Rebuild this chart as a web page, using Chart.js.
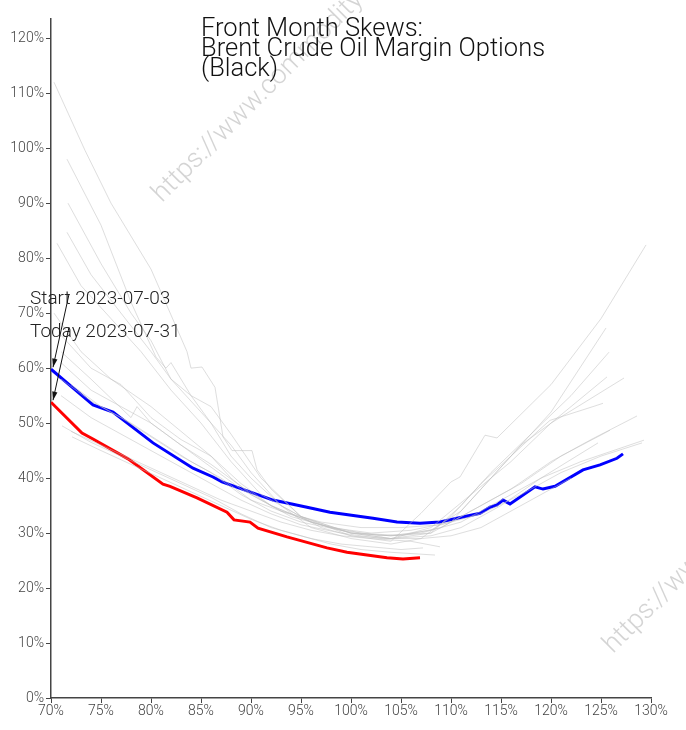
<!DOCTYPE html>
<html>
<head>
<meta charset="utf-8">
<script src="https://cdn.jsdelivr.net/npm/chart.js@4.4.0/dist/chart.umd.min.js"></script>
<style>
  html, body { margin: 0; padding: 0; background: #fff; }
  #wrap { width: 686px; height: 730px; position: relative; }
</style>
</head>
<body>
<div id="wrap"><canvas id="skew-chart" width="686" height="730"></canvas></div>
<script>
// moneyness (% of ATM) and implied vol (%)
var startLabel = 'Start 2023-07-03';
var todayLabel = 'Today 2023-07-31';
var titleLines = ['Front Month Skews:', 'Brent Crude Oil Margin Options', '(Black)'];

var blueMoneyness = [70, 74.2, 76.2, 80.2, 84.2, 86.2, 87.1, 92.2, 95.6, 97.9, 102.2, 104.6, 106.9, 108.9, 110.6, 112.9, 113.9, 114.6, 115.2, 115.9, 118.4, 119.2, 120.4, 123.2, 124.9, 126.6, 127.2];
var blueVols = [59.8, 53.3, 52.0, 46.4, 41.8, 40.2, 39.3, 36.0, 34.7, 33.8, 32.7, 32.0, 31.8, 32.0, 32.7, 33.6, 34.7, 35.1, 36.0, 35.3, 38.4, 38.0, 38.5, 41.5, 42.4, 43.6, 44.4];

var redMoneyness = [70, 73.1, 74.2, 77.7, 81.2, 81.9, 84.6, 87.6, 88.3, 89.9, 90.7, 93.6, 97.6, 99.6, 103.6, 105.2, 106.9];
var redVols = [53.8, 48.2, 47.1, 43.5, 38.9, 38.5, 36.4, 33.8, 32.4, 32.0, 30.9, 29.3, 27.3, 26.5, 25.5, 25.3, 25.5];

// other days of the month, light grey
var greyMoneyness = [
    [70.3, 73.4, 76, 80, 83.6, 84, 85.1, 86.4, 87.2, 88.1, 90.1, 90.6, 92, 95, 100, 104, 107, 110, 110.9, 113.4, 114.6, 120, 125, 129.5],
    [71.6, 75, 78, 80.5, 81.5, 82, 84, 86, 88, 90, 93, 96, 100, 104, 107, 110, 113, 116, 120, 125.5],
    [71.7, 75, 78, 80, 82, 85, 88, 90, 93, 97, 100, 104, 108, 111, 114, 118, 122, 125.8],
    [71.6, 74, 77, 80, 82, 84, 86, 88, 91, 95, 100, 104, 108, 112, 116, 120, 125.6],
    [70.6, 73, 76, 79, 82, 85, 88, 91, 95, 100, 104, 108, 111, 113, 117, 120, 127.3],
    [70.3, 73, 76, 80, 82, 84, 86, 88, 90, 94, 98, 102, 106, 110, 113, 116, 118.9, 119.9, 124.2, 125.2],
    [71, 74, 77, 80, 83, 86, 89, 92, 96, 100, 104, 108, 112, 116, 120, 124, 128.6],
    [71, 74, 76, 78, 78.6, 80, 83, 86, 89, 93, 97, 101, 105, 109, 113, 117, 121, 125.9],
    [71, 74, 77, 80, 83, 86, 89, 92, 96, 100, 104, 108, 111, 115, 119, 124.7],
    [71, 74, 77, 80, 83, 86, 89, 92, 95, 99, 103, 107, 111, 115, 119, 123, 129.3],
    [72, 75, 78, 81, 84, 87, 90, 93, 97, 101, 105, 109, 113, 117, 121, 125, 129.1],
    [71.1, 74, 77, 80, 83, 86, 89, 92, 95, 98, 101, 104, 108.4],
    [72.1, 75, 78, 81, 84, 87, 90, 93, 96, 99, 102, 105, 107.2],
    [72, 75, 78, 81, 84, 87, 90, 93, 96, 99, 102, 106, 108.9],
    [71, 74, 77, 80, 83, 86, 89, 92, 95, 99, 103, 107, 110, 113, 116, 119, 122]
];
var greyVols = [
    [112, 99.6, 90, 78, 63, 60, 60.2, 56.5, 47.5, 45, 45, 41.5, 38, 33, 29.5, 28.5, 33.6, 39.3, 40.2, 47.8, 47.3, 57, 69, 82.4],
    [98, 86, 72, 62, 60, 61, 55, 50, 44, 40, 35, 31, 29, 28, 29, 33, 39, 44, 52, 67.3],
    [90, 79, 70, 65, 58, 52, 46, 41, 35, 31, 29.5, 29, 30, 35, 41, 48, 55, 62.9],
    [84.7, 77, 70, 63, 58, 55, 53, 48, 40, 33, 30, 29, 31, 37, 43, 50, 58.4],
    [82.7, 75, 69, 63, 56, 50, 43, 37, 33, 30, 29.5, 30.5, 34, 38, 46, 50, 58.2],
    [70, 63, 58, 53, 50, 47, 44, 40, 37, 33, 31, 30, 30.5, 32, 38, 44, 48.9, 50.5, 53, 53.6],
    [66, 60, 57, 51, 47, 44, 39, 35, 32, 30, 29.5, 30, 34, 38, 43, 47, 51.3],
    [63, 58, 54.5, 51, 53, 50, 46, 42, 38, 34, 31.5, 30, 29.5, 31, 35, 39, 44, 48.7],
    [61, 56, 53, 50, 46, 42.5, 38.5, 35, 32, 30, 29, 29.5, 31, 35, 40, 46.4],
    [58, 54, 51, 47.5, 44, 41, 37, 34, 32, 30.5, 29.5, 30, 32, 36, 40, 43, 46.9],
    [57, 53, 50, 46.5, 43, 40, 36, 34, 32, 31, 31, 31.5, 33.5, 37, 41, 44, 46.4],
    [49.5, 46.5, 44, 41.5, 39, 36.5, 33.5, 31, 29.5, 28, 27, 26.5, 26],
    [47.5, 45, 42.5, 40, 37.5, 35, 32.5, 30.5, 29, 28, 27.5, 27, 27.3],
    [48.5, 46, 43.5, 41, 38.5, 36, 34, 32, 30.5, 29.5, 29, 28.5, 27.5],
    [55, 51, 48, 45, 42, 39, 36, 33.5, 31.5, 30, 29, 29, 29.5, 31, 34, 37, 40]
];

var xMin = 70, xMax = 130, xStep = 5;
var yMin = 0, yMax = 123.5, yStep = 10;

function toPoints(xs, ys) {
    var pts = [];
    for (var i = 0; i < xs.length; i++) pts.push({ x: xs[i], y: ys[i] });
    return pts;
}

var datasets = [];
for (var g = 0; g < greyMoneyness.length; g++) {
    datasets.push({
        label: 'day ' + (g + 1),
        data: toPoints(greyMoneyness[g], greyVols[g]),
        borderColor: 'rgba(190,190,190,0.5)',
        borderWidth: 1,
        pointRadius: 0,
        tension: 0
    });
}
datasets.push({
    label: todayLabel,
    data: toPoints(redMoneyness, redVols),
    borderColor: '#ff0000',
    borderWidth: 3,
    pointRadius: 0,
    tension: 0
});
datasets.push({
    label: startLabel,
    data: toPoints(blueMoneyness, blueVols),
    borderColor: '#0000ff',
    borderWidth: 3,
    pointRadius: 0,
    tension: 0
});

// watermark, title and the two arrow notes
var decorations = {
    id: 'decorations',
    beforeDatasetsDraw: function(chart) {
        var ctx = chart.ctx;
        ctx.save();
        ctx.fillStyle = 'rgba(170,170,170,0.5)';
        ctx.font = '300 27px Roboto, sans-serif';
        [[162, 203], [613, 654]].forEach(function(p) {
            ctx.save();
            ctx.translate(p[0], p[1]);
            ctx.rotate(-Math.PI / 4);
            ctx.fillText('https://www.commodity-options.com', 0, 0);
            ctx.restore();
        });
        ctx.restore();
    },
    afterDraw: function(chart) {
        var ctx = chart.ctx;
        var xs = chart.scales.x, ys = chart.scales.y;
        ctx.save();
        ctx.fillStyle = '#111';
        ctx.font = '300 25.5px Roboto, sans-serif';
        ctx.textBaseline = 'alphabetic';
        titleLines.forEach(function(t, i) {
            ctx.fillText(t, 201, 36 + i * 20);
        });

        var notes = [
            { text: startLabel, x: blueMoneyness[0], y: blueVols[0] },
            { text: todayLabel, x: redMoneyness[0], y: redVols[0] }
        ];
        ctx.font = '300 19px Roboto, sans-serif';
        ctx.fillStyle = '#222';
        ctx.strokeStyle = '#111';
        ctx.lineWidth = 1;
        notes.forEach(function(n) {
            var px = xs.getPixelForValue(n.x), py = ys.getPixelForValue(n.y);
            var tx = px - 21, ty = py - 65;
            ctx.fillText(n.text, tx, ty);
            var sx = tx + 39, sy = ty - 10;
            var ex = px + 2, ey = py - 2;
            ctx.beginPath();
            ctx.moveTo(sx, sy);
            ctx.lineTo(ex, ey);
            ctx.stroke();
            var a = Math.atan2(ey - sy, ex - sx);
            ctx.beginPath();
            ctx.moveTo(ex, ey);
            ctx.lineTo(ex - 9 * Math.cos(a - 0.3), ey - 9 * Math.sin(a - 0.3));
            ctx.lineTo(ex - 9 * Math.cos(a + 0.3), ey - 9 * Math.sin(a + 0.3));
            ctx.closePath();
            ctx.fillStyle = '#111';
            ctx.fill();
            ctx.fillStyle = '#222';
        });
        ctx.restore();
    }
};

new Chart(document.getElementById('skew-chart'), {
    type: 'line',
    data: { datasets: datasets },
    options: {
        responsive: false,
        animation: false,
        layout: { padding: { top: 19, right: 35, left: 0, bottom: 0 } },
        plugins: {
            legend: { display: false },
            tooltip: { enabled: false },
            title: { display: false }
        },
        scales: {
            x: {
                type: 'linear',
                min: xMin,
                max: xMax,
                afterFit: function(scale) { scale.height = 32; },
                afterBuildTicks: function(scale) {
                    var t = [];
                    for (var v = xMin; v <= xMax; v += xStep) t.push({ value: v });
                    scale.ticks = t;
                },
                grid: { display: true, drawOnChartArea: false, drawTicks: true, tickLength: 5, color: '#444' },
                border: { display: true, color: '#444', width: 1.5 },
                ticks: {
                    padding: 0,
                    maxRotation: 0,
                    color: '#444',
                    font: { family: 'Roboto', size: 14, weight: '300' },
                    callback: function(v) { return v + '%'; }
                }
            },
            y: {
                type: 'linear',
                min: yMin,
                max: yMax,
                afterFit: function(scale) { scale.width = 51; },
                afterBuildTicks: function(scale) {
                    var t = [];
                    for (var v = yMin; v <= 120; v += yStep) t.push({ value: v });
                    scale.ticks = t;
                },
                grid: { display: true, drawOnChartArea: false, drawTicks: true, tickLength: 5, color: '#444' },
                border: { display: true, color: '#444', width: 1.5 },
                ticks: {
                    padding: 2,
                    color: '#444',
                    font: { family: 'Roboto', size: 14, weight: '300' },
                    callback: function(v) { return v + '%'; }
                }
            }
        }
    },
    plugins: [decorations]
});
</script>
</body>
</html>
